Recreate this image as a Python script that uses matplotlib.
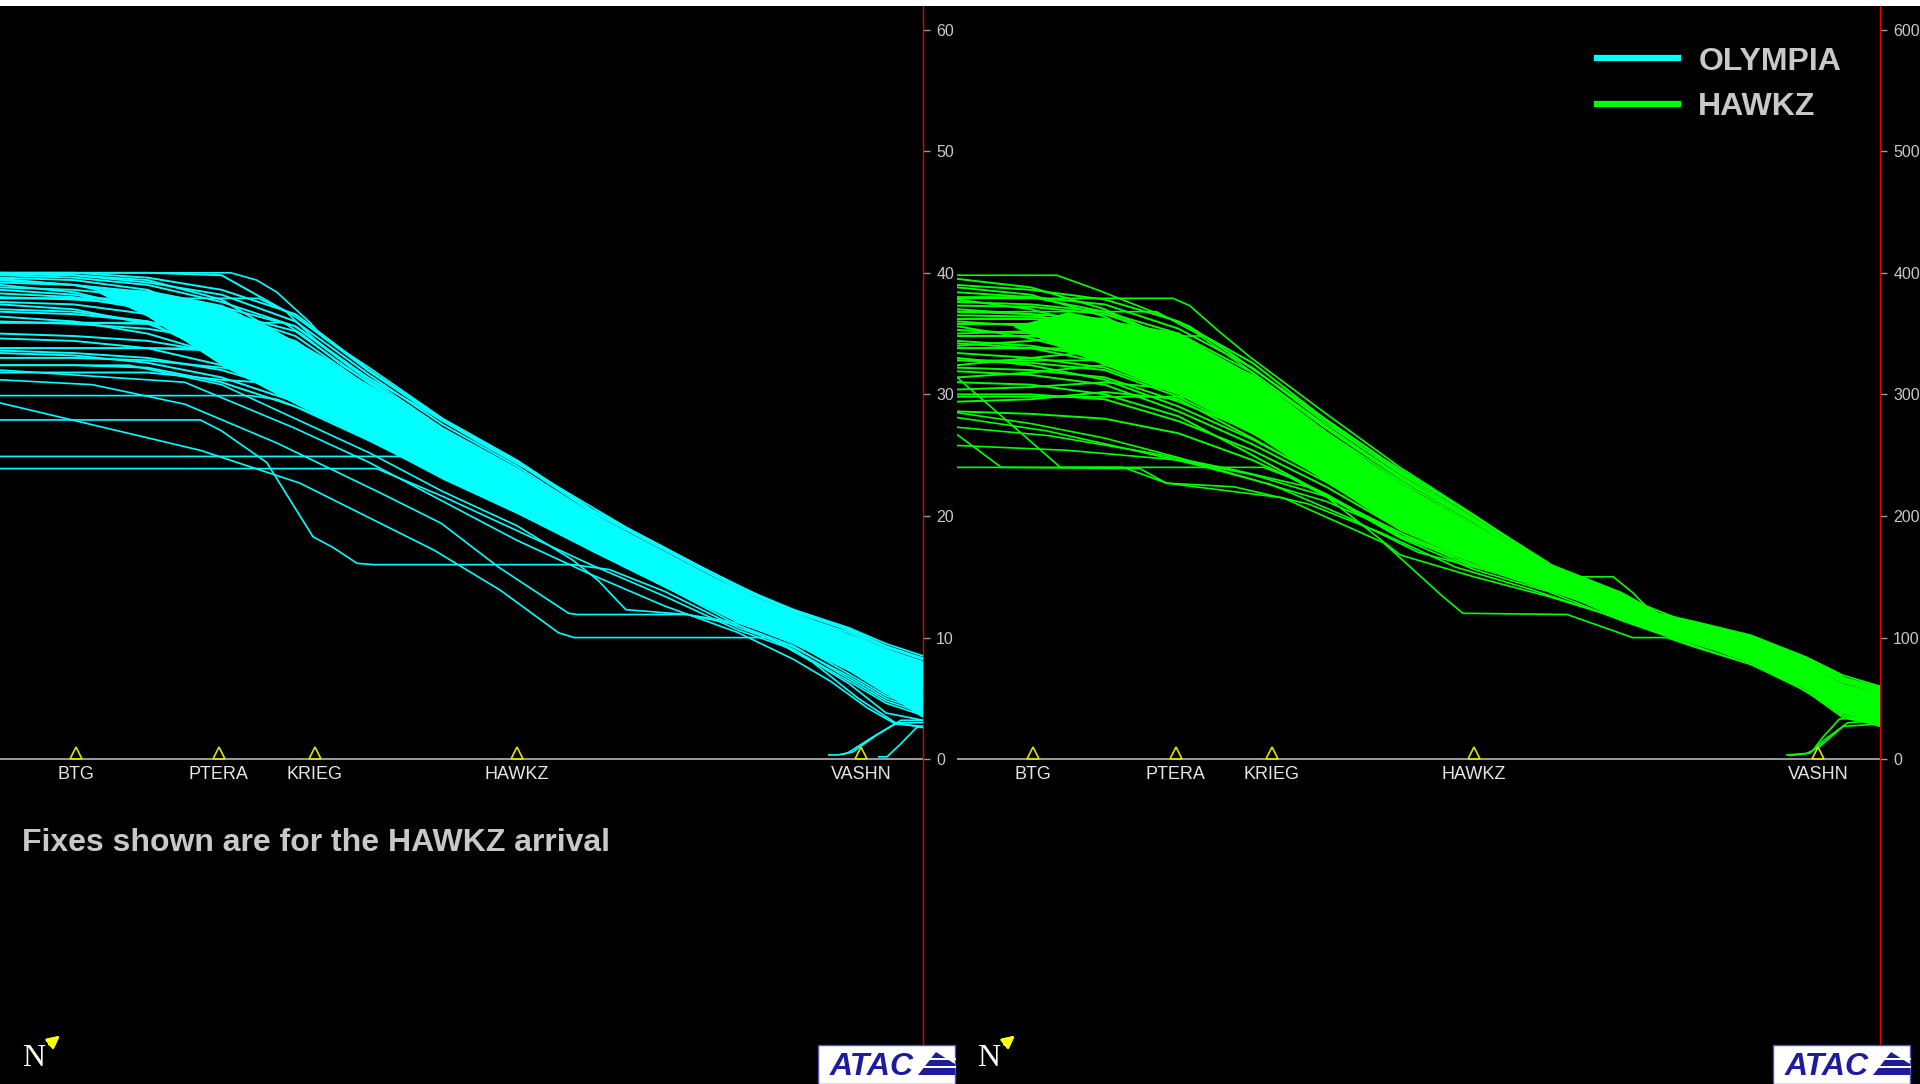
import matplotlib
matplotlib.use("Agg")
import matplotlib.pyplot as plt
import matplotlib.transforms as mtransforms
from matplotlib.lines import Line2D
from matplotlib.patches import Rectangle, Polygon
from matplotlib.ticker import FuncFormatter

# along-track distance in panel units (0-100), altitude in thousands of feet
FIX_NAMES = ["BTG", "PTERA", "KRIEG", "HAWKZ", "VASHN"]
FIX_X = [8.2, 23.7, 34.1, 56.0, 93.3]
ALT_TICKS = [0, 10, 20, 30, 40, 50, 60]

# ---------------- OLYMPIA (cyan) ----------------
CYAN_X = [0, 8, 16, 24, 32, 40, 48, 56, 64, 72, 80, 86, 92, 96, 100]
CYAN_CORE = [
    [40.0, 40.0, 40.0, 39.8, 36.4, 31.9, 27.8, 24.4, 20.4, 17.2, 14.0, 12.1, 10.6, 9.2, 8.2],
    [39.8, 39.6, 39.0, 37.6, 35.6, 31.3, 27.2, 23.9, 20.1, 16.9, 13.7, 11.8, 10.2, 8.8, 7.7],
    [39.4, 39.0, 38.2, 36.8, 34.8, 30.6, 26.8, 23.4, 19.7, 16.6, 13.4, 11.5, 9.8, 8.4, 7.3],
    [37.9, 37.9, 37.8, 36.6, 34.0, 30.0, 26.2, 23.0, 19.4, 16.2, 13.1, 11.2, 9.6, 7.9, 6.9],
    [35.9, 35.9, 35.8, 35.2, 33.2, 29.4, 25.8, 22.5, 19.0, 15.9, 12.8, 11.0, 9.1, 7.5, 6.4],
    [33.8, 33.8, 33.8, 33.6, 32.4, 28.8, 25.2, 22.1, 18.6, 15.5, 12.5, 10.7, 8.7, 7.1, 6.0],
    [33.0, 33.0, 32.8, 32.2, 31.6, 28.2, 24.8, 21.6, 18.3, 15.2, 12.2, 10.4, 8.3, 6.7, 5.5],
    [38.6, 38.2, 37.2, 35.4, 32.8, 29.0, 25.4, 22.3, 18.8, 15.7, 12.6, 10.8, 8.9, 7.3, 6.2],
    [36.8, 36.6, 36.0, 34.6, 32.0, 28.5, 25.0, 21.9, 18.5, 15.4, 12.4, 10.6, 8.5, 6.9, 5.8],
    [39.0, 38.4, 37.0, 34.8, 31.6, 28.0, 24.6, 21.4, 18.1, 15.0, 12.0, 10.2, 8.1, 6.4, 5.3],
    [31.8, 31.8, 31.8, 31.2, 30.8, 27.6, 24.2, 21.2, 17.9, 14.8, 11.9, 10.1, 8.0, 6.2, 5.1],
    [36.4, 36.0, 35.0, 33.2, 30.4, 27.2, 24.0, 20.9, 17.7, 14.6, 11.7, 9.9, 7.8, 6.0, 4.9],
    [37.4, 37.0, 35.8, 33.6, 30.0, 26.9, 23.7, 20.7, 17.5, 14.5, 11.6, 9.8, 7.6, 5.8, 4.7],
    [34.6, 34.4, 33.8, 32.4, 29.6, 26.6, 23.4, 20.4, 17.3, 14.3, 11.4, 9.6, 7.4, 5.6, 4.4],
    [40.0, 39.8, 39.2, 38.2, 36.0, 31.6, 27.5, 24.1, 20.2, 17.0, 13.8, 11.9, 10.4, 9.0, 8.0],
    [38.0, 37.8, 37.4, 36.2, 34.4, 30.3, 26.5, 23.2, 19.6, 16.4, 13.2, 11.3, 9.7, 8.2, 7.1],
    [36.0, 35.8, 35.4, 34.4, 32.6, 29.2, 25.6, 22.4, 18.9, 15.8, 12.7, 10.9, 9.0, 7.4, 6.3],
    [39.5, 39.0, 37.8, 35.8, 33.6, 29.7, 26.0, 22.8, 19.2, 16.1, 13.0, 11.1, 9.4, 7.7, 6.7],
    [35.0, 34.8, 34.4, 33.4, 31.2, 27.9, 24.4, 21.3, 18.0, 14.9, 12.0, 10.2, 8.2, 6.5, 5.4],
    [37.6, 37.4, 36.6, 35.0, 32.2, 28.6, 25.1, 22.0, 18.6, 15.5, 12.5, 10.7, 8.6, 7.0, 5.9],
    [33.6, 33.4, 33.0, 32.0, 30.2, 27.0, 23.9, 20.8, 17.6, 14.6, 11.6, 9.9, 7.7, 5.9, 4.8],
    [38.8, 38.6, 38.0, 36.8, 35.2, 30.9, 27.0, 23.6, 19.9, 16.8, 13.6, 11.6, 10.0, 8.6, 7.5],
    [32.4, 32.4, 32.2, 31.0, 29.0, 26.2, 23.2, 20.3, 17.2, 14.2, 11.3, 9.5, 7.3, 5.4, 4.2],
    [33.4, 33.2, 32.6, 31.4, 29.4, 26.4, 23.6, 20.6, 17.4, 14.4, 11.5, 9.7, 7.5, 5.6, 4.5],
    [40.0, 40.0, 39.6, 38.6, 36.6, 32.0, 27.9, 24.5, 20.5, 17.3, 14.1, 12.2, 10.7, 9.3, 8.3],
    [39.9, 39.8, 39.4, 37.8, 34.2, 30.2, 26.4, 23.1, 19.5, 16.3, 13.2, 11.3, 9.6, 8.0, 7.0],
    [39.6, 39.4, 38.6, 36.2, 33.0, 29.3, 25.7, 22.6, 19.1, 16.0, 12.9, 11.0, 9.2, 7.6, 6.6],
    [38.3, 38.0, 37.0, 34.0, 31.0, 27.8, 24.5, 21.5, 18.2, 15.1, 12.1, 10.3, 8.2, 6.5, 5.4],
    [37.0, 36.8, 36.0, 33.0, 30.0, 27.0, 23.9, 20.9, 17.8, 14.8, 11.8, 10.0, 7.9, 6.1, 5.0],
    [39.2, 39.0, 38.4, 37.2, 35.6, 31.1, 27.1, 23.8, 20.0, 16.8, 13.6, 11.7, 10.1, 8.7, 7.6],
]
CYAN_EXTRA = [
    [(0, 40.0), (25.0, 40.0), (27.8, 39.4), (30.0, 38.4), (33.6, 35.9), (35.0, 34.7), (40, 32.2),
     (48, 28.0), (56, 24.6), (64, 20.6), (72, 17.4), (80, 14.2), (86, 12.3), (92, 10.8), (96, 9.5), (100, 8.5)],
    [(0, 37.9), (28.0, 37.9), (31.0, 36.8), (34.0, 34.6), (38.0, 32.2), (44, 29.6), (52, 26.0),
     (60, 22.6), (68, 19.0), (76, 15.8), (84, 12.8), (90, 11.2), (96, 9.2), (100, 8.3)],
    [(0, 35.9), (30.7, 35.9), (33.0, 34.8), (37, 32.4), (42, 30.0), (50, 26.2), (58, 22.9),
     (66, 19.4), (74, 16.0), (82, 13.2), (88, 11.4), (94, 9.6), (100, 7.9)],
    [(0, 33.8), (33.2, 33.8), (36, 32.6), (40, 30.6), (46, 27.6), (54, 24.0), (62, 20.4),
     (70, 17.2), (78, 14.2), (86, 11.6), (92, 9.8), (100, 7.4)],
    [(0, 29.9), (27.0, 29.9), (30, 29.6), (36, 27.8), (44, 24.8), (52, 21.8), (60, 18.8),
     (68, 15.8), (76, 13.0), (84, 10.6), (90, 8.6), (96, 5.8), (100, 4.8)],
    [(0, 27.9), (21.7, 27.9), (24, 27.0), (28.9, 24.4), (33.9, 18.3), (36.1, 17.4), (38.7, 16.1),
     (40.5, 16.0), (62, 16.0), (66, 15.6), (72, 13.8), (80, 10.8), (86, 9.2), (92, 6.8), (96, 5.0), (100, 4.0)],
    [(0, 29.3), (21.7, 25.4), (32.5, 22.7), (47, 17.2), (54.2, 13.9), (60.5, 10.4), (62.2, 10.0),
     (83.3, 10.0), (88, 8.0), (93, 5.0), (97, 3.0), (100, 2.6)],
    [(0, 31.2), (10, 30.8), (20, 29.2), (30, 26.0), (41.2, 21.9), (47.8, 19.4), (54.0, 15.8),
     (61.6, 12.0), (62.5, 11.9), (74.4, 11.9), (80, 11.0), (86, 9.0), (92, 6.2), (96, 3.8), (100, 3.2)],
    [(0, 24.9), (49.0, 24.9), (52, 23.4), (56, 21.0), (64, 17.2), (72, 14.2), (80, 11.0),
     (86, 9.3), (92, 6.6), (96, 4.8), (100, 3.8)],
    [(0, 23.9), (40.8, 23.9), (48, 21.6), (56, 18.8), (64, 16.0), (72, 13.4), (80, 10.6),
     (86, 9.0), (92, 6.4), (96, 4.6), (100, 3.6)],
    [(0, 32.4), (14, 32.4), (24, 30.8), (32, 28.0), (40, 25.2), (48, 22.0), (56, 19.2), (62, 16.4),
     (64.8, 14.7), (67.8, 12.3), (74.4, 11.9), (80, 11.2), (86, 9.6), (92, 7.0), (96, 5.2), (100, 4.2)],
    [(0, 32.0), (20, 31.0), (32, 27.2), (40, 24.4), (48, 21.2), (56, 18.0), (64, 15.2), (72, 12.6),
     (80, 10.4), (86, 8.2), (90, 6.4), (94, 4.2), (97, 2.9), (100, 2.7)],
]
CYAN_LANDING = [
    [(100, 3.0), (97.2, 3.0), (94.5, 1.8), (91.8, 0.5), (90.8, 0.35), (89.8, 0.35)],
    [(100, 2.7), (99.3, 2.6), (97.5, 1.2), (96.1, 0.2), (95.2, 0.2)],
    [(100, 3.2), (97.6, 3.2), (95.0, 2.0), (92.4, 0.6), (91.2, 0.4)],
]
CYAN_FILL_X = [10, 16, 24, 32, 40, 48, 56, 64, 72, 80, 86, 92, 96, 100]
CYAN_FILL_TOP = [38.6, 38.6, 37.4, 34.4, 30.8, 27.2, 23.8, 20.0, 16.8, 13.7, 11.8, 10.2, 9.0, 8.0]
CYAN_FILL_BOT = [38.6, 36.4, 32.4, 29.2, 26.2, 23.0, 20.2, 17.2, 14.2, 11.2, 10.0, 7.4, 5.4, 3.4]

# ---------------- HAWKZ (green) ----------------
GREEN_X = [0, 8, 16, 24, 32, 40, 48, 56, 64, 72, 76, 80, 86, 92, 96, 100]
GREEN_CORE = [
    [38.0, 38.0, 37.4, 35.4, 32.2, 27.6, 23.5, 19.8, 15.9, 13.5, 11.8, 11.1, 10.0, 8.2, 6.6, 5.8],
    [37.3, 37.2, 36.6, 34.6, 31.3, 26.9, 22.9, 19.3, 15.7, 13.3, 11.6, 10.9, 9.8, 7.9, 6.3, 5.5],
    [36.5, 36.4, 35.8, 33.8, 30.4, 26.2, 22.3, 18.9, 15.5, 13.0, 11.5, 10.8, 9.5, 7.6, 5.9, 5.2],
    [35.8, 35.8, 35.4, 33.0, 29.5, 25.7, 21.6, 18.5, 15.3, 12.8, 11.3, 10.6, 9.3, 7.4, 5.6, 4.8],
    [34.8, 34.8, 34.4, 32.0, 28.6, 25.0, 21.0, 18.0, 15.1, 12.6, 11.1, 10.4, 9.1, 7.1, 5.2, 4.5],
    [33.8, 33.8, 33.4, 31.0, 27.7, 24.2, 20.4, 17.6, 14.9, 12.3, 11.0, 10.3, 8.8, 6.8, 4.9, 4.2],
    [32.8, 32.6, 32.0, 29.8, 26.8, 23.5, 19.8, 17.1, 14.7, 12.1, 10.8, 10.1, 8.6, 6.5, 4.5, 3.9],
    [31.9, 31.6, 30.8, 28.6, 25.9, 22.8, 19.2, 16.7, 14.5, 11.9, 10.6, 9.9, 8.4, 6.3, 4.2, 3.5],
    [39.5, 38.8, 37.0, 34.2, 30.9, 26.6, 22.6, 19.1, 15.6, 13.2, 11.5, 10.8, 9.6, 7.7, 6.0, 5.3],
    [38.8, 38.2, 36.4, 33.2, 29.9, 25.9, 21.9, 18.7, 15.4, 12.9, 11.4, 10.7, 9.4, 7.5, 5.7, 5.0],
    [37.0, 36.6, 35.2, 32.4, 29.0, 25.3, 21.3, 18.2, 15.2, 12.7, 11.2, 10.5, 9.2, 7.2, 5.4, 4.6],
    [35.3, 35.0, 34.0, 31.4, 28.1, 24.6, 20.7, 17.8, 15.0, 12.4, 11.0, 10.3, 9.0, 6.9, 5.0, 4.3],
    [34.2, 33.8, 32.6, 30.2, 27.2, 23.9, 20.1, 17.3, 14.8, 12.2, 10.9, 10.2, 8.7, 6.6, 4.7, 4.0],
    [33.0, 32.4, 31.2, 29.0, 26.3, 23.1, 19.5, 16.9, 14.6, 12.0, 10.7, 10.0, 8.5, 6.4, 4.3, 3.7],
    [30.0, 30.0, 29.6, 27.8, 25.4, 22.4, 18.9, 16.5, 14.4, 11.7, 10.5, 9.8, 8.2, 6.1, 4.0, 3.3],
    [31.0, 30.8, 30.0, 28.2, 25.0, 21.7, 18.3, 16.0, 14.2, 11.5, 10.4, 9.7, 8.0, 5.8, 3.6, 3.0],
    [36.8, 36.6, 36.2, 34.2, 30.8, 26.5, 22.5, 19.0, 15.6, 13.1, 11.6, 10.9, 9.7, 7.8, 6.1, 5.4],
    [34.4, 34.0, 33.0, 30.6, 28.4, 24.8, 20.9, 18.0, 15.0, 12.5, 11.1, 10.4, 8.9, 7.0, 5.1, 4.4],
    [32.2, 32.0, 31.4, 29.4, 27.0, 23.7, 19.9, 17.3, 14.7, 12.2, 10.8, 10.1, 8.6, 6.6, 4.6, 3.8],
    [38.4, 38.0, 36.8, 34.0, 31.6, 27.2, 23.1, 19.5, 15.8, 13.4, 11.7, 11.0, 9.9, 8.0, 6.4, 5.7],
    [36.0, 35.6, 34.6, 32.8, 29.2, 25.5, 21.4, 18.4, 15.2, 12.7, 11.2, 10.5, 9.2, 7.3, 5.5, 4.7],
    [33.4, 33.0, 32.2, 30.0, 27.5, 24.0, 20.2, 17.5, 14.8, 12.3, 10.9, 10.2, 8.8, 6.7, 4.8, 4.1],
    [28.6, 28.4, 28.0, 26.8, 24.6, 21.8, 18.4, 16.2, 14.3, 11.6, 10.4, 9.7, 8.1, 6.0, 3.8, 3.1],
    [37.6, 37.4, 36.8, 35.0, 31.8, 27.3, 23.3, 19.6, 15.9, 13.4, 11.7, 11.0, 9.9, 8.1, 6.5, 5.7],
    [39.0, 38.6, 37.8, 36.0, 32.6, 27.9, 23.7, 20.0, 16.0, 13.6, 11.9, 11.2, 10.1, 8.3, 6.7, 5.9],
    [36.2, 36.2, 36.0, 35.0, 31.0, 26.4, 22.4, 18.8, 15.5, 13.0, 11.4, 10.7, 9.4, 7.5, 5.8, 5.1],
    [35.0, 35.2, 35.6, 34.4, 30.0, 25.8, 21.8, 18.6, 15.4, 12.9, 11.3, 10.6, 9.3, 7.3, 5.5, 4.8],
    [34.0, 34.4, 35.0, 33.4, 29.6, 25.2, 21.2, 18.1, 15.2, 12.6, 11.1, 10.4, 9.0, 7.0, 5.3, 4.5],
    [32.4, 33.0, 33.6, 32.0, 28.0, 24.4, 20.6, 17.7, 14.9, 12.4, 11.0, 10.3, 8.8, 6.8, 4.9, 4.2],
    [31.4, 31.8, 32.4, 31.6, 27.4, 23.8, 20.0, 17.2, 14.7, 12.1, 10.8, 10.1, 8.6, 6.5, 4.6, 3.9],
    [29.4, 29.6, 30.2, 29.6, 26.4, 23.0, 19.4, 16.8, 14.5, 11.9, 10.6, 9.9, 8.3, 6.2, 4.2, 3.5],
    [37.8, 37.0, 35.4, 32.6, 29.8, 25.6, 21.5, 18.3, 15.1, 12.6, 11.1, 10.4, 9.0, 7.0, 5.2, 4.4],
    [35.6, 34.6, 33.0, 31.2, 28.8, 25.0, 21.1, 18.1, 15.0, 12.5, 11.0, 10.3, 8.9, 6.9, 5.0, 4.3],
    [30.4, 30.6, 31.0, 30.4, 28.0, 24.3, 20.3, 17.6, 14.8, 12.3, 10.9, 10.2, 8.7, 6.7, 4.8, 4.0],
]
GREEN_EXTRA = [
    [(0, 39.8), (10.8, 39.8), (15.2, 38.6), (25.2, 35.6), (35.3, 30.4), (46.2, 24.7), (55.6, 20.2),
     (64, 16.2), (66.1, 15.0), (71.1, 15.0), (73.2, 13.7), (75.4, 12.0), (84.1, 10.4), (87.7, 9.6),
     (91.3, 8.6), (94.9, 7.2), (97.8, 6.0), (100, 6.0)],
    [(0, 37.9), (23.4, 37.9), (25.2, 37.3), (28.2, 35.3), (31.7, 33.1), (40, 28.4), (48, 24.0),
     (56, 20.1), (64, 16.1), (72, 13.7), (76, 12.0), (80, 11.3), (86, 10.2), (92, 8.4), (96, 6.9), (100, 6.0)],
    [(0, 36.8), (21.6, 36.8), (26, 35.0), (32, 31.8), (40, 27.4), (48, 23.2), (56, 19.6), (64, 15.8),
     (72, 13.4), (80, 11.0), (86, 9.9), (92, 8.0), (96, 6.5), (100, 5.6)],
    [(0, 34.8), (26.8, 34.8), (30, 33.2), (36, 30.0), (44, 25.6), (52, 21.6), (60, 17.8), (68, 14.4),
     (76, 11.4), (84, 9.6), (92, 7.2), (100, 4.4)],
    [(0, 35.8), (15, 35.8), (22, 34.4), (30, 31.2), (40, 26.6), (50, 21.8), (60, 17.4), (70, 13.4),
     (78, 10.8), (88, 8.8), (96, 5.2), (100, 4.6)],
    [(0, 29.8), (31.9, 29.8), (36, 27.4), (42, 24.0), (50, 20.0), (58, 16.8), (64, 15.0), (72, 12.6),
     (80, 10.2), (86, 8.8), (92, 6.8), (96, 4.8), (100, 4.0)],
    [(0, 33.8), (24.0, 33.8), (28, 32.2), (36, 28.2), (44, 24.0), (52, 20.4), (60, 17.0), (68, 14.2),
     (76, 11.0), (84, 9.0), (92, 6.6), (100, 3.8)],
    [(0, 32.8), (24.8, 32.8), (30, 30.4), (38, 26.4), (46, 22.4), (54, 18.6), (62, 15.6), (70, 12.8),
     (78, 10.4), (86, 8.4), (94, 5.2), (100, 3.4)],
    [(0, 24.0), (33.2, 24.0), (36, 23.2), (42, 20.8), (48, 18.2), (56, 15.6), (64, 13.8), (72, 11.4),
     (80, 9.3), (86, 7.8), (92, 5.6), (96, 3.4), (100, 2.8)],
    [(0, 26.7), (4.8, 24.0), (19.8, 23.9), (22.7, 22.7), (35.3, 21.5), (46.2, 17.8), (52.6, 13.4),
     (54.8, 12.0), (66.1, 11.9), (73.2, 10.0), (76.9, 10.0), (80, 9.2), (86, 7.8), (92, 5.8), (96, 3.6), (100, 2.7)],
    [(0, 31.4), (11.2, 24.0), (18, 24.0), (22.7, 22.7), (30, 22.4), (38, 21.0), (46, 18.6), (54, 15.8),
     (62, 14.0), (70, 12.0), (76, 10.4), (82, 9.0), (88, 7.4), (94, 4.6), (100, 2.9)],
    [(0, 28.5), (8, 27.6), (16, 26.4), (24, 24.8), (32, 23.0), (40, 21.2), (48, 18.6), (56, 16.2),
     (64, 14.0), (72, 11.8), (80, 9.6), (86, 8.0), (92, 5.9), (96, 3.8), (100, 3.0)],
    [(0, 27.3), (10, 26.6), (20.9, 25.2), (30, 23.8), (38, 22.4), (46, 19.4), (54, 16.4), (62, 14.4),
     (70, 12.4), (78, 10.0), (86, 8.2), (94, 5.0), (100, 3.2)],
    [(0, 28.1), (9.7, 27.0), (18, 25.6), (26, 24.2), (34, 22.6), (42, 20.0), (50, 17.0), (56, 15.8),
     (60, 15.0), (66, 13.6), (72, 11.9), (80, 9.8), (88, 7.6), (96, 4.0), (100, 3.1)],
    [(0, 25.8), (12, 25.4), (24, 24.6), (32, 23.4), (40, 21.6), (48, 16.8), (56, 15.0), (64, 13.4),
     (70, 12.0), (76, 10.4), (80, 9.6), (86, 8.0), (92, 5.8), (96, 3.6), (100, 2.8)],
]
GREEN_LANDING = [
    [(100, 3.2), (96.5, 3.0), (94.0, 1.6), (92.4, 0.5), (89.9, 0.35)],
    [(100, 2.9), (96.0, 2.7), (93.4, 1.0), (92.0, 0.45), (90.2, 0.3)],
    [(99.0, 3.5), (95.6, 3.3), (93.8, 1.8), (92.8, 0.8)],
]
GREEN_FILL_X = [6, 12, 24, 32, 40, 48, 56, 64, 72, 76, 80, 86, 92, 96, 100]
GREEN_FILL_TOP = [35.6, 36.8, 35.0, 31.6, 27.0, 22.6, 19.2, 15.6, 13.2, 11.6, 10.9, 9.7, 7.8, 6.2, 5.4]
GREEN_FILL_BOT = [35.6, 33.6, 30.0, 26.8, 22.8, 18.8, 16.2, 14.3, 11.6, 10.4, 9.7, 8.2, 6.1, 3.8, 3.0]

W, H = 1920, 1084
TXT = '#c8c8c8'
plt.rcParams['font.family'] = ['Liberation Sans', 'DejaVu Sans']

fig = plt.figure(figsize=(W / 100, H / 100), dpi=100, facecolor='black')
# thin white strip at the very top of the screenshot
fig.add_artist(Rectangle((0, 1 - 6 / H), 1, 6 / H, transform=fig.transFigure,
                         facecolor='white', edgecolor='none'))

panel_h = (H - 6) / H
ax1 = fig.add_axes([0, 0, 923 / W, panel_h])
ax2 = fig.add_axes([957 / W, 0, 923 / W, panel_h])


def setup_panel(ax, fmt):
    ax.set_facecolor('none')
    ax.set_xlim(0, 100)
    ax.set_ylim(-26.71, 61.94)  # 0 kft sits at y=759 px, 10 kft = 121.6 px
    for s in ['left', 'top', 'bottom']:
        ax.spines[s].set_visible(False)
    ax.spines['right'].set_color('#e80000')
    ax.spines['right'].set_linewidth(1.0)
    ax.set_xticks([])
    ax.yaxis.tick_right()
    ax.set_yticks(ALT_TICKS)
    ax.yaxis.set_major_formatter(fmt)
    ax.tick_params(axis='y', colors='#9a9a9a', labelcolor=TXT, length=5, width=1,
                   pad=4.5, labelsize=11.5)
    ax.axhline(0, color='#a8a8a8', lw=1.3, zorder=1)

    # fixes on the baseline
    lift = mtransforms.offset_copy(ax.transData, fig=fig, y=4.3, units='points')
    ax.plot(FIX_X, [0] * len(FIX_X), ls='none', marker='^', ms=9, mfc='none',
            mec='#e0e000', mew=1.2, transform=lift, zorder=5, clip_on=False)
    for name, x in zip(FIX_NAMES, FIX_X):
        ax.annotate(name, (x, 0), xytext=(0, -11), textcoords='offset points',
                    ha='center', va='center', color='#e6e6e6', fontsize=13,
                    family=['Liberation Sans Narrow', 'Liberation Sans'])


def draw_tracks(ax, stations, core, extra, landing, fx, ftop, fbot, color):
    ax.fill_between(fx, fbot, ftop, color=color, lw=0, zorder=2)
    for ys in core:
        ax.plot(stations, ys, color=color, lw=1.4, zorder=3)
    for tr in extra + landing:
        xs, ys = zip(*tr)
        ax.plot(xs, ys, color=color, lw=1.2, zorder=3)


setup_panel(ax1, FuncFormatter(lambda v, p: f"{v:.0f}"))
setup_panel(ax2, FuncFormatter(lambda v, p: f"{v * 10:.0f}"))

draw_tracks(ax1, CYAN_X, CYAN_CORE, CYAN_EXTRA, CYAN_LANDING,
            CYAN_FILL_X, CYAN_FILL_TOP, CYAN_FILL_BOT, '#00ffff')
draw_tracks(ax2, GREEN_X, GREEN_CORE, GREEN_EXTRA, GREEN_LANDING,
            GREEN_FILL_X, GREEN_FILL_TOP, GREEN_FILL_BOT, '#00ff00')

# legend
handles = [Line2D([], [], color='#00ffff', lw=4.5), Line2D([], [], color='#00ff00', lw=4.5)]
leg = fig.legend(handles, ['OLYMPIA', 'HAWKZ'], loc='upper left',
                 bbox_to_anchor=(1597 / W, 1 - 46.5 / H), frameon=False,
                 handlelength=2.55, handletextpad=0.62, labelspacing=0.5,
                 borderpad=0, borderaxespad=0,
                 prop=dict(family='Liberation Sans', weight='bold', size=23))
for t in leg.get_texts():
    t.set_color(TXT)

fig.text(22 / W, 1 - 843 / H, "Fixes shown are for the HAWKZ arrival", va='center',
         ha='left', fontsize=23, weight='bold', color=TXT)

# north arrows and ATAC logos, one per panel
for dx in (0, 955):
    fig.text((22 + dx) / W, 18 / H, "N", fontsize=23, color='white',
             family=['Liberation Serif', 'DejaVu Serif'], va='baseline')
    fig.add_artist(plt.annotate('', xy=(62 + dx, 50), xytext=(47 + dx, 38),
                                xycoords='figure pixels', textcoords='figure pixels',
                                arrowprops=dict(arrowstyle='-|>', color='#ffff00', lw=1.8,
                                                mutation_scale=18)))
    lx = 818 + dx
    fig.add_artist(Rectangle((lx / W, 0), 137 / W, 39 / H, transform=fig.transFigure,
                             facecolor='white', edgecolor='#5050c0', lw=1, zorder=10))
    fig.text((lx + 12) / W, 9 / H, "ATAC", fontsize=23, weight='bold', style='italic',
             color='#1c1c9c', va='baseline', zorder=11)
    fig.add_artist(Polygon([((lx + 100) / W, 9 / H), ((lx + 137) / W, 9 / H),
                            ((lx + 137) / W, 20 / H), ((lx + 118) / W, 32 / H)],
                           closed=True, transform=fig.transFigure,
                           facecolor='#1c1c9c', edgecolor='none', zorder=11))
    for sy in (16, 24):
        fig.add_artist(Rectangle(((lx + 98) / W, sy / H), 40 / W, 2.5 / H,
                                 transform=fig.transFigure, facecolor='white',
                                 edgecolor='none', zorder=12))

fig.savefig('out.png', dpi=100, facecolor='black')
